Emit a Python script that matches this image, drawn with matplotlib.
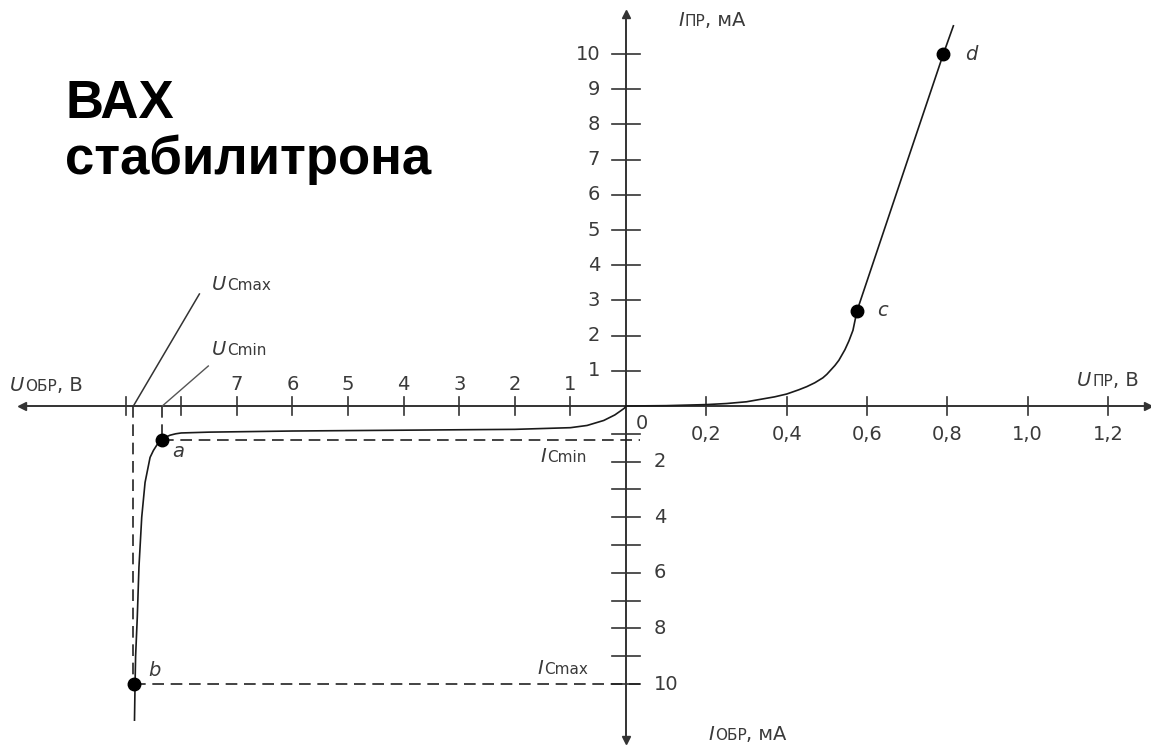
import numpy as np
import matplotlib.pyplot as plt

# forward branch (U in V, I in mA)
u_fwd = [0, 0.1, 0.2, 0.25, 0.3, 0.34, 0.37, 0.4, 0.43, 0.45, 0.47, 0.49,
         0.5, 0.52, 0.53, 0.545, 0.555, 0.565, 0.575, 0.6, 0.65, 0.7, 0.79, 0.815]
i_fwd = [0, 0.01, 0.04, 0.07, 0.12, 0.2, 0.26, 0.34, 0.46, 0.55, 0.66, 0.8,
         0.9, 1.15, 1.3, 1.6, 1.85, 2.15, 2.7, 3.55, 5.25, 6.95, 10.0, 10.8]

# reverse branch (U in V, I in mA, both as magnitudes)
u_rev = [0, 0.03, 0.1, 0.2, 0.4, 0.7, 1.0, 2.0, 4.0, 6.0, 7.5, 8.0, 8.1, 8.2,
         8.28, 8.35, 8.43, 8.5, 8.56, 8.65, 8.71, 8.76, 8.79, 8.82, 8.83, 8.84]
i_rev = [0, 0.08, 0.18, 0.32, 0.52, 0.7, 0.78, 0.84, 0.87, 0.9, 0.94, 0.97, 1.0,
         1.05, 1.12, 1.22, 1.38, 1.6, 1.85, 2.75, 4.0, 5.8, 7.6, 9.0, 10.0, 11.3]

# marked points
pt_names = ["a", "b", "c", "d"]
pt_u = [8.35, 8.84, 0.575, 0.79]
pt_i = [1.22, 10.0, 2.7, 10.0]
pt_side = ["rev", "rev", "fwd", "fwd"]

u_cmin, u_cmax = 8.34, 8.86
i_cmin, i_cmax = 1.22, 10.0

fwd_u_ticks = [0.2, 0.4, 0.6, 0.8, 1.0, 1.2]
fwd_u_labels = ["0,2", "0,4", "0,6", "0,8", "1,0", "1,2"]
rev_u_ticks = [1, 2, 3, 4, 5, 6, 7, 8, 9]
rev_u_labels = ["1", "2", "3", "4", "5", "6", "7", "", ""]
fwd_i_ticks = [1, 2, 3, 4, 5, 6, 7, 8, 9, 10]
rev_i_ticks = [1, 2, 3, 4, 5, 6, 7, 8, 9, 10]
rev_i_labels = ["", "2", "", "4", "", "6", "", "8", "", "10"]

# pixel scale of each half-axis (the picture uses different scales)
SX_FWD, SX_REV = 401.7, 55.6
SY_FWD, SY_REV = 35.2, 27.8


def fx(u, side):
    return np.asarray(u) * (SX_FWD if side == "fwd" else -SX_REV)


def fy(i, side):
    return np.asarray(i) * (SY_FWD if side == "fwd" else -SY_REV)


W, H = 1151, 747
OX, OY = 626, 406
fig = plt.figure(figsize=(W / 100, H / 100), dpi=100)
ax = fig.add_axes([0, 0, 1, 1])
ax.set_xlim(-OX, W - OX)
ax.set_ylim(-(H - OY), OY)
ax.axis("off")

axc = "#333333"
tc = "#3a3a3a"
fs = 14

# axes with arrows
ax.plot([-604, 522], [0, 0], color=axc, lw=1.4)
ax.plot([0, 0], [-334, 392], color=axc, lw=1.4)
ax.plot([-604], [0], marker="<", color=axc, ms=6)
ax.plot([522], [0], marker=">", color=axc, ms=6)
ax.plot([0], [392], marker="^", color=axc, ms=6)
ax.plot([0], [-334], marker="v", color=axc, ms=6)

# ticks
for t in fwd_u_ticks:
    x = fx(t, "fwd")
    ax.plot([x, x], [-9, 9], color=axc, lw=1.2)
for t, lab in zip(fwd_u_ticks, fwd_u_labels):
    ax.text(fx(t, "fwd"), -19, lab, ha="center", va="top", fontsize=fs, color=tc)
for t in rev_u_ticks:
    x = fx(t, "rev")
    ax.plot([x, x], [-9, 9], color=axc, lw=1.2)
for t, lab in zip(rev_u_ticks, rev_u_labels):
    ax.text(fx(t, "rev"), 12, lab, ha="center", va="bottom", fontsize=fs, color=tc)
for t in fwd_i_ticks:
    y = fy(t, "fwd")
    ax.plot([-14, 14], [y, y], color=axc, lw=1.2)
    ax.text(-26, y, str(t), ha="right", va="center", fontsize=fs, color=tc)
for t, lab in zip(rev_i_ticks, rev_i_labels):
    y = fy(t, "rev")
    ax.plot([-14, 14], [y, y], color=axc, lw=1.2)
    ax.text(28, y, lab, ha="left", va="center", fontsize=fs, color=tc)
ax.text(10, -8, "0", ha="left", va="top", fontsize=fs, color=tc)

# characteristic
ax.plot(fx(u_fwd, "fwd"), fy(i_fwd, "fwd"), color="#1a1a1a", lw=1.2)
ax.plot(fx(u_rev, "rev"), fy(i_rev, "rev"), color="#1a1a1a", lw=1.2)

# dashed guides
dash = dict(color="#222222", lw=1.2, ls=(0, (7, 4)))
ax.plot([fx(u_cmin, "rev")] * 2, [0, fy(i_cmin, "rev")], **dash)
ax.plot([fx(u_cmax, "rev")] * 2, [0, fy(i_cmax, "rev")], **dash)
ax.plot([fx(pt_u[0], "rev"), 14], [fy(i_cmin, "rev")] * 2, **dash)
ax.plot([fx(pt_u[1], "rev"), 14], [fy(i_cmax, "rev")] * 2, **dash)

# leader lines for U_Cmax / U_Cmin
xm = fx(u_cmax, "rev")
ax.plot([xm, xm + 66], [0, 112], color="#333333", lw=1.1)
xn = fx(u_cmin, "rev")
ax.plot([xn, xn + 46], [0, 40], color="#555555", lw=1.0)

# points
offs = {"a": (10, -12), "b": (14, 14), "c": (20, 0), "d": (22, 0)}
for name, u, i, side in zip(pt_names, pt_u, pt_i, pt_side):
    x, y = fx(u, side), fy(i, side)
    ax.plot([x], [y], "o", color="black", ms=9)
    dx, dy = offs[name]
    ax.text(x + dx, y + dy, name, ha="left", va="center", fontsize=fs,
            style="italic", color=tc)


def sub_label(x, y, main, sub, tail=""):
    t = ax.text(x, y, main, ha="left", va="baseline", fontsize=fs,
                style="italic", color=tc)
    fig.canvas.draw()
    bb = t.get_window_extent()
    inv = ax.transData.inverted()
    x2 = inv.transform((bb.x1 + 1, bb.y0))[0]
    t2 = ax.text(x2, y, sub, ha="left", va="baseline", fontsize=fs - 3, color=tc)
    if tail:
        fig.canvas.draw()
        bb2 = t2.get_window_extent()
        x3 = inv.transform((bb2.x1, bb2.y0))[0]
        ax.text(x3, y, tail, ha="left", va="baseline", fontsize=fs, color=tc)


sub_label(52, 380, "I", "ПР", ", мА")
sub_label(451, 20, "U", "ПР", ", В")
sub_label(-616, 15, "U", "ОБР", ", В")
sub_label(82, -334, "I", "ОБР", ", мА")
sub_label(-414, 116, "U", "Cmax")
sub_label(-414, 51, "U", "Cmin")
sub_label(-86, -56, "I", "Cmin")
sub_label(-89, -268, "I", "Cmax")

ax.text(-561, 327, "ВАХ\nстабилитрона", ha="left", va="top",
        fontsize=38, fontweight="bold", family="Liberation Sans",
        linespacing=1.15, color="black")

fig.savefig("out.png", dpi=100)
